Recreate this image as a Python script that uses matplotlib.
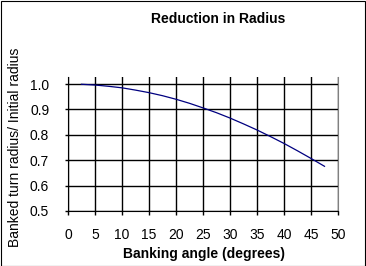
import matplotlib
matplotlib.use("Agg")
import matplotlib.pyplot as plt
from matplotlib.patches import Rectangle

# values
angle = [2.5, 5, 7.5, 10, 12.5, 15, 17.5, 20, 22.5, 25,
         27.5, 30, 32.5, 35, 37.5, 40, 42.5, 45, 47.5]
ratio = [0.999, 0.996, 0.991, 0.985, 0.976, 0.966, 0.954, 0.940, 0.924, 0.906,
         0.887, 0.866, 0.843, 0.819, 0.793, 0.766, 0.737, 0.707, 0.676]
xticks = list(range(0, 55, 5))
yticks = [0.5, 0.6, 0.7, 0.8, 0.9, 1.0]

plt.rcParams['font.family'] = ['Liberation Sans', 'DejaVu Sans']
plt.rcParams['font.size'] = 10

W, H = 366, 266
fig = plt.figure(figsize=(W / 100, H / 100), dpi=100)
fig.patch.set_facecolor('white')
fig.patches.append(Rectangle((0.5 / W, 0.5 / H), 1 - 1.5 / W, 1 - 1.5 / H,
                             transform=fig.transFigure, fill=False,
                             edgecolor='black', linewidth=0.8))

ax = fig.add_axes([68 / W, (H - 211) / H, 270 / W, 134 / H])
ax.plot(angle, ratio, color='#000080', linewidth=0.9)

ax.set_xlim(0, 50)
ax.set_ylim(0.5, 1.0276)
ax.set_xticks(xticks)
ax.set_yticks(yticks)
ax.set_yticklabels([f"{v:.1f}" for v in yticks])
ax.grid(True, color='black', linewidth=1.0)
ax.set_axisbelow(True)

for s in ['top']:
    ax.spines[s].set_visible(False)
ax.spines['right'].set_color('#808080')
ax.spines['left'].set_color('black')
ax.spines['bottom'].set_color('black')
ax.tick_params(axis='y', length=2.5, width=1, pad=11, labelsize=10)
ax.tick_params(axis='x', length=3, width=1, pad=9, labelsize=10)

fig.text(218 / W, 1 - 19 / H, 'Reduction in Radius', ha='center', va='center',
         fontweight='bold', fontsize=10)
fig.text(204 / W, 1 - 254 / H, 'Banking angle (degrees)', ha='center',
         va='center', fontweight='bold', fontsize=10)
fig.text(15 / W, 1 - 147 / H, 'Banked turn radius/ Initial radius',
         ha='center', va='center', rotation=90, fontsize=10)

fig.savefig('out.png', dpi=100)
